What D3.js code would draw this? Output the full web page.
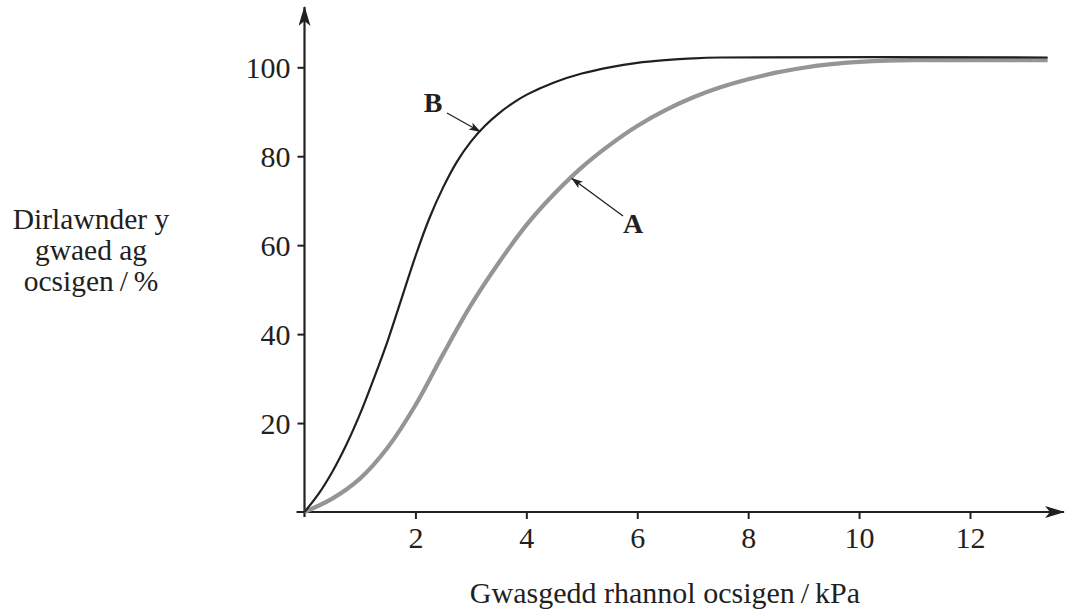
<!DOCTYPE html>
<html><head><meta charset="utf-8">
<script src="https://cdn.jsdelivr.net/npm/d3@7"></script>
<style>
html,body{margin:0;padding:0;background:#fff;}
svg text{font-family:"Liberation Serif","Times New Roman",serif;fill:#231f20;}
</style>
</head><body>
<svg id="chart" width="1066" height="611"></svg>
<script>
// Data
const xTicks = [2, 4, 6, 8, 10, 12];
const yTicks = [20, 40, 60, 80, 100];
const curveB_x = [0, 0.25, 0.5, 0.75, 1.0, 1.25, 1.5, 1.75, 2.0, 2.25, 2.5, 2.75, 3.0, 3.25, 3.5, 3.75, 4.0, 4.5, 5.0, 5.5, 6.0, 6.5, 7.0, 7.5, 13.4];
const curveB_y = [0, 4, 9, 15, 22, 30, 38.5, 48, 57.5, 66, 73, 78.8, 83.3, 86.8, 89.6, 91.9, 93.8, 96.6, 98.6, 100, 101, 101.6, 102, 102.2, 102.2];
const curveA_x = [0, 0.5, 1.0, 1.5, 2.0, 2.5, 3.0, 3.5, 4.0, 4.5, 5.0, 5.5, 6.0, 6.5, 7.0, 7.5, 8.0, 8.5, 9.0, 9.5, 10.0, 10.5, 11.0, 13.4];
const curveA_y = [0, 3, 7.5, 14.5, 24, 35.5, 46.5, 56, 64.5, 71.5, 77.5, 82.5, 86.8, 90.3, 93.2, 95.5, 97.3, 98.8, 99.9, 100.7, 101.2, 101.5, 101.6, 101.6];
const labels = {
  y: ["Dirlawnder y", "gwaed ag", "ocsigen\u2009/\u2009%"],
  x: "Gwasgedd rhannol ocsigen\u2009/\u2009kPa"
};

const svg = d3.select("#chart");
const ink = "#231f20";
const x = d3.scaleLinear().domain([0, 12]).range([304.5, 970]);
const y = d3.scaleLinear().domain([0, 100]).range([512, 67.3]);

// arrowhead markers
const defs = svg.append("defs");
defs.append("marker").attr("id", "axArrow").attr("viewBox", "0 0 20 12")
  .attr("refX", 19).attr("refY", 6).attr("markerWidth", 20).attr("markerHeight", 12)
  .attr("markerUnits", "userSpaceOnUse").attr("orient", "auto")
  .append("path").attr("d", "M0,0 L20,6 L0,12 L5,6 Z").attr("fill", ink);
defs.append("marker").attr("id", "smArrow").attr("viewBox", "0 0 12 8")
  .attr("refX", 11).attr("refY", 4).attr("markerWidth", 12).attr("markerHeight", 8)
  .attr("markerUnits", "userSpaceOnUse").attr("orient", "auto")
  .append("path").attr("d", "M0,0 L12,4 L0,8 L3,4 Z").attr("fill", ink);

// axes lines
svg.append("line").attr("x1", x(0) - 8).attr("y1", y(0)).attr("x2", 1064).attr("y2", y(0))
  .attr("stroke", ink).attr("stroke-width", 2.2).attr("marker-end", "url(#axArrow)");
svg.append("line").attr("x1", x(0)).attr("y1", y(0) + 5).attr("x2", x(0)).attr("y2", 7)
  .attr("stroke", ink).attr("stroke-width", 2.2).attr("marker-end", "url(#axArrow)");

// ticks via d3 axes
const xAxis = svg.append("g").attr("transform", `translate(0,${y(0)})`)
  .call(d3.axisBottom(x).tickValues(xTicks).tickSize(7).tickPadding(8).tickFormat(d3.format("d")));
const yAxis = svg.append("g").attr("transform", `translate(${x(0)},0)`)
  .call(d3.axisLeft(y).tickValues(yTicks).tickSize(7).tickPadding(7).tickFormat(d3.format("d")));
[xAxis, yAxis].forEach(g => {
  g.select(".domain").remove();
  g.selectAll(".tick line").attr("stroke", ink).attr("stroke-width", 2);
  g.selectAll(".tick text").attr("font-family", "Liberation Serif, serif")
    .attr("font-size", 30).attr("fill", ink);
});
yAxis.selectAll(".tick text").attr("dy", "0.35em");

// curves
const line = d3.line().x(d => x(d[0])).y(d => y(d[1])).curve(d3.curveCatmullRom.alpha(0.5));
const dataA = curveA_x.map((v, i) => [v, curveA_y[i]]);
const dataB = curveB_x.map((v, i) => [v, curveB_y[i]]);
svg.append("path").datum(dataA).attr("d", line).attr("fill", "none")
  .attr("stroke", "#939598").attr("stroke-width", 4.2);
svg.append("path").datum(dataB).attr("d", line).attr("fill", "none")
  .attr("stroke", ink).attr("stroke-width", 2.2);

// curve labels with arrows
svg.append("text").attr("x", 433).attr("y", 112).attr("text-anchor", "middle")
  .attr("font-size", 28).attr("font-weight", "bold").text("B");
svg.append("line").attr("x1", 447).attr("y1", 113).attr("x2", 480).attr("y2", 131.5)
  .attr("stroke", ink).attr("stroke-width", 1.3).attr("marker-end", "url(#smArrow)");
svg.append("text").attr("x", 633).attr("y", 233).attr("text-anchor", "middle")
  .attr("font-size", 28).attr("font-weight", "bold").text("A");
svg.append("line").attr("x1", 623).attr("y1", 216).attr("x2", 572).attr("y2", 178.5)
  .attr("stroke", ink).attr("stroke-width", 1.3).attr("marker-end", "url(#smArrow)");

// axis titles
const yl = svg.append("text").attr("text-anchor", "middle").attr("font-size", 29.5);
labels.y.forEach((t, i) => yl.append("tspan").attr("x", 91).attr("y", 229 + i * 31).text(t));
svg.append("text").attr("x", 665).attr("y", 603).attr("text-anchor", "middle")
  .attr("font-size", 30).text(labels.x);
</script>
</body></html>
